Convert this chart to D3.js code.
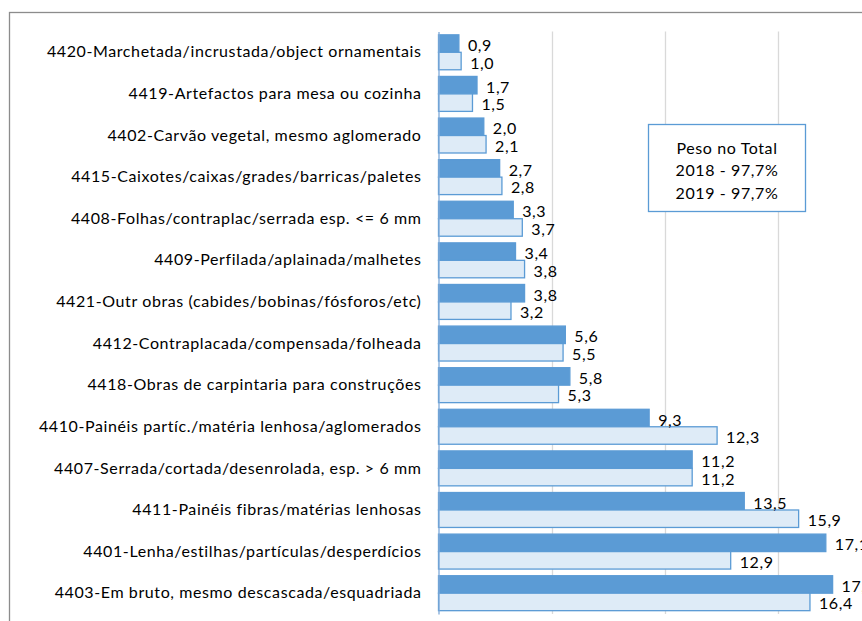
<!DOCTYPE html>
<html>
<head>
<meta charset="utf-8">
<script src="https://cdn.jsdelivr.net/npm/d3@7"></script>
<style>
body { margin: 0; background: #fff; }
svg { display: block; font-family: Lato, "Open Sans", sans-serif; }
</style>
</head>
<body>
<svg></svg>
<script>
const categories = [
	"4420-Marchetada/incrustada/object ornamentais",
	"4419-Artefactos para mesa ou cozinha",
	"4402-Carvão vegetal, mesmo aglomerado",
	"4415-Caixotes/caixas/grades/barricas/paletes",
	"4408-Folhas/contraplac/serrada esp. <= 6 mm",
	"4409-Perfilada/aplainada/malhetes",
	"4421-Outr obras (cabides/bobinas/fósforos/etc)",
	"4412-Contraplacada/compensada/folheada",
	"4418-Obras de carpintaria para construções",
	"4410-Painéis partíc./matéria lenhosa/aglomerados",
	"4407-Serrada/cortada/desenrolada, esp. > 6 mm",
	"4411-Painéis fibras/matérias lenhosas",
	"4401-Lenha/estilhas/partículas/desperdícios",
	"4403-Em bruto, mesmo descascada/esquadriada"
];
const values2018 = [0.9, 1.7, 2.0, 2.7, 3.3, 3.4, 3.8, 5.6, 5.8, 9.3, 11.2, 13.5, 17.1, 17.4];
const values2019 = [1.0, 1.5, 2.1, 2.8, 3.7, 3.8, 3.2, 5.5, 5.3, 12.3, 11.2, 15.9, 12.9, 16.4];
const seriesNames = ["2018", "2019"];
const gridTicks = [5, 10, 15, 20];
const boxLines = ["Peso no Total", "2018 - 97,7%", "2019 - 97,7%"];

const WIDTH = 862;
const HEIGHT = 621;
const DARK = "#5b9bd5";
const LIGHT = "#deebf7";
const FONT_SIZE = "16px";
const SPACING = "0.6px";

const svg = d3.select("svg").attr("width", WIDTH).attr("height", HEIGHT);

// chart frame (runs off the right and bottom edge like the original)
svg.append("rect")
	.attr("x", 9.5).attr("y", 12.5).attr("width", 1000).attr("height", 800)
	.attr("fill", "#fff").attr("stroke", "#8c8c8c").attr("stroke-width", 1.3);

const xScale = d3.scaleLinear().domain([0, 20]).range([438.5, 438.5 + 20 * 22.65]);
const yScale = d3.scaleBand().domain(categories).range([31.5, 614])
	.paddingInner(0.16).paddingOuter(0.08);
const sScale = d3.scaleBand().domain(seriesNames).range([0, yScale.bandwidth()]);

const rows = categories.map(function(c, i) {
	return {cat: c, v: [values2018[i], values2019[i]]};
});

// gridlines
svg.selectAll("line.grid")
	.data(gridTicks)
	.enter()
	.append("line")
	.attr("class", "grid")
	.attr("x1", d => Math.round(xScale(d)) + 0.5).attr("x2", d => Math.round(xScale(d)) + 0.5)
	.attr("y1", 31.5).attr("y2", 614)
	.attr("stroke", "#d9d9d9").attr("stroke-width", 1.3);

// text box
const box = svg.append("g");
box.append("rect")
	.attr("x", 648.5).attr("y", 124.5).attr("width", 157).attr("height", 87)
	.attr("fill", "#fff").attr("stroke", DARK).attr("stroke-width", 1.3);
box.selectAll("text")
	.data(boxLines)
	.enter()
	.append("text")
	.attr("x", 727)
	.attr("y", (d, i) => 147 + i * 22.5)
	.attr("text-anchor", "middle")
	.attr("dominant-baseline", "central")
	.style("font-size", FONT_SIZE)
	.style("letter-spacing", SPACING)
	.attr("fill", "#000")
	.text(d => d);

// bars
const groups = svg.selectAll("g.cat")
	.data(rows)
	.enter()
	.append("g")
	.attr("class", "cat")
	.attr("transform", d => "translate(0," + yScale(d.cat) + ")");

groups.selectAll("rect")
	.data(d => d.v.map((v, j) => ({s: seriesNames[j], v: v})))
	.enter()
	.append("rect")
	.attr("x", xScale(0))
	.attr("y", d => sScale(d.s))
	.attr("width", d => xScale(d.v) - xScale(0))
	.attr("height", sScale.bandwidth())
	.attr("fill", d => d.s == "2018" ? DARK : LIGHT)
	.attr("stroke", DARK)
	.attr("stroke-width", 1.3);

groups.selectAll("text")
	.data(d => d.v.map((v, j) => ({s: seriesNames[j], v: v})))
	.enter()
	.append("text")
	.attr("x", d => xScale(d.v) + 9)
	.attr("y", d => sScale(d.s) + sScale.bandwidth() / 2 + 1)
	.attr("dominant-baseline", "central")
	.style("font-size", FONT_SIZE)
	.style("letter-spacing", SPACING)
	.attr("fill", "#000")
	.text(d => d3.format(".1f")(d.v).replace(".", ","));

// category axis
const yAxis = d3.axisLeft(yScale).tickSize(0).tickPadding(17);
const axisG = svg.append("g")
	.attr("transform", "translate(" + xScale(0) + ",0)")
	.call(yAxis);
axisG.select(".domain").attr("stroke", "#7fa9d8").attr("stroke-width", 1.3);
axisG.selectAll("text")
	.style("font-size", FONT_SIZE)
	.style("letter-spacing", SPACING)
	.style("font-family", "Lato, 'Open Sans', sans-serif")
	.attr("fill", "#000");
</script>
</body>
</html>
